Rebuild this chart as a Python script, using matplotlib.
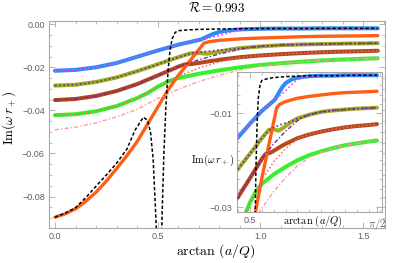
import matplotlib.pyplot as plt
from matplotlib.ticker import FixedLocator, MultipleLocator

plt.rcParams['mathtext.fontset'] = 'cm'
plt.rcParams['font.family'] = ['Liberation Sans', 'DejaVu Sans']

# --- data ---
# thick numerical curves
blue_x = [0, 0.1, 0.2, 0.3, 0.4, 0.5, 0.6, 0.66, 0.71, 0.74, 0.77, 0.80, 0.85, 0.9, 1.0, 1.1, 1.2, 1.3, 1.4, 1.5, 1.5708]
blue_y = [-0.0216, -0.0212, -0.0200, -0.0180, -0.0151, -0.0122, -0.0095, -0.0082, -0.0071, -0.0058, -0.0045,
          -0.0036, -0.0028, -0.0024, -0.0021, -0.0020, -0.0020, -0.0019, -0.0019, -0.0019, -0.0019]

orange_x = [0, 0.05, 0.1, 0.15, 0.2, 0.25, 0.3, 0.35, 0.4, 0.45, 0.5, 0.55, 0.6, 0.65, 0.7, 0.725, 0.75, 0.8,
            0.9, 1.0, 1.1, 1.2, 1.3, 1.4, 1.5, 1.5708]
orange_y = [-0.0896, -0.0880, -0.0857, -0.0822, -0.0780, -0.0728, -0.0670, -0.0610, -0.0545, -0.0465, -0.0385,
            -0.0305, -0.0238, -0.0178, -0.0118, -0.0088, -0.0081, -0.0075, -0.0068, -0.0064, -0.0061, -0.0058,
            -0.0056, -0.0055, -0.0054, -0.0053]

olive_x = [0, 0.1, 0.2, 0.3, 0.4, 0.5, 0.6, 0.66, 0.70, 0.74, 0.78, 0.85, 0.9, 1.0, 1.1, 1.2, 1.3, 1.4, 1.5, 1.5708]
olive_y = [-0.0285, -0.0281, -0.0268, -0.0247, -0.0218, -0.0186, -0.0153, -0.0135, -0.0134, -0.0137, -0.0131,
           -0.0118, -0.0111, -0.0103, -0.0097, -0.0094, -0.0092, -0.0090, -0.0089, -0.0088]

brown_x = [0, 0.1, 0.2, 0.3, 0.4, 0.5, 0.6, 0.63, 0.67, 0.7, 0.75, 0.8, 0.9, 1.0, 1.1, 1.2, 1.3, 1.4, 1.5, 1.5708]
brown_y = [-0.0352, -0.0347, -0.0333, -0.0310, -0.0278, -0.0238, -0.0197, -0.0187, -0.0184, -0.0180, -0.0172,
           -0.0165, -0.0153, -0.0145, -0.0139, -0.0134, -0.0130, -0.0127, -0.0125, -0.0123]

green_x = [0, 0.1, 0.2, 0.3, 0.4, 0.45, 0.5, 0.55, 0.6, 0.7, 0.8, 0.9, 1.0, 1.1, 1.2, 1.3, 1.4, 1.5, 1.5708]
green_y = [-0.0422, -0.0418, -0.0404, -0.0380, -0.0343, -0.0320, -0.0290, -0.0266, -0.0250, -0.0230, -0.0214,
           -0.0200, -0.0189, -0.0181, -0.0174, -0.0168, -0.0164, -0.0160, -0.0158]

# approximations (thin)
magenta_x = [0, 0.1, 0.2, 0.3, 0.4, 0.5, 0.6, 0.66, 0.71, 0.76, 0.8, 0.84, 0.89, 0.95, 1.0, 1.1, 1.2, 1.3, 1.4, 1.5, 1.5708]
magenta_y = [-0.0216, -0.0212, -0.0200, -0.0180, -0.0151, -0.0122, -0.0095, -0.0082, -0.0071, -0.0061, -0.0052,
             -0.0042, -0.0030, -0.0023, -0.0021, -0.0020, -0.0020, -0.0019, -0.0019, -0.0019, -0.0019]

violet_dot_x = [0, 0.1, 0.2, 0.3, 0.4, 0.5, 0.6, 0.66, 0.70, 0.74, 0.78, 0.85, 0.9, 1.0, 1.1, 1.2, 1.3, 1.4, 1.5, 1.5708]
violet_dot_y = [-0.0285, -0.0281, -0.0268, -0.0247, -0.0218, -0.0186, -0.0153, -0.0136, -0.0130, -0.0126, -0.0122,
                -0.0117, -0.0111, -0.0103, -0.0097, -0.0094, -0.0092, -0.0090, -0.0089, -0.0088]

violet_dd_x = [0, 0.1, 0.2, 0.3, 0.4, 0.5, 0.6, 0.63, 0.7, 0.8, 0.9, 0.95, 1.0, 1.1, 1.2, 1.3, 1.4, 1.5, 1.5708]
violet_dd_y = [-0.0352, -0.0347, -0.0333, -0.0310, -0.0278, -0.0238, -0.0197, -0.0187, -0.0165, -0.0138, -0.0116,
               -0.0108, -0.0103, -0.0097, -0.0094, -0.0092, -0.0090, -0.0089, -0.0088]

red_dot_x = [0, 0.1, 0.2, 0.3, 0.4, 0.45, 0.5, 0.6, 0.7, 0.8, 0.9, 1.0, 1.1, 1.2, 1.3, 1.4, 1.5, 1.5708]
red_dot_y = [-0.0422, -0.0418, -0.0404, -0.0380, -0.0343, -0.0320, -0.0292, -0.0242, -0.0203, -0.0175, -0.0154,
             -0.0145, -0.0139, -0.0134, -0.0130, -0.0127, -0.0125, -0.0123]

salmon_x = [0, 0.1, 0.2, 0.3, 0.4, 0.5, 0.6, 0.7, 0.8, 0.9, 1.0, 1.1, 1.2, 1.3, 1.4, 1.5, 1.5708]
salmon_y = [-0.0490, -0.0478, -0.0458, -0.0430, -0.0395, -0.0345, -0.0302, -0.0266, -0.0237, -0.0212, -0.0194,
            -0.0183, -0.0174, -0.0168, -0.0164, -0.0160, -0.0158]

black_x = [0, 0.05, 0.1, 0.15, 0.2, 0.25, 0.3, 0.35, 0.39, 0.43, 0.45, 0.465, 0.478, 0.49, 0.5, 0.508, 0.518,
           0.53, 0.54, 0.55, 0.56, 0.57, 0.585, 0.6, 0.65, 0.7, 0.8, 0.9, 1.0, 1.2, 1.4, 1.5708]
black_y = [-0.0896, -0.0877, -0.0852, -0.0805, -0.0752, -0.0700, -0.0645, -0.0580, -0.0491, -0.0432, -0.0445,
           -0.0500, -0.0630, -0.0878, -0.1100, -0.1500, -0.1000, -0.0600, -0.0380, -0.0220, -0.0120, -0.0068,
           -0.0038, -0.0030, -0.0026, -0.0024, -0.0022, -0.0021, -0.0020, -0.0020, -0.0019, -0.0019]

thick = [(blue_x, blue_y, '#2a8cf2', 2.9), (olive_x, olive_y, '#9cb022', 2.9), (brown_x, brown_y, '#b3481d', 2.9),
         (green_x, green_y, '#36f02c', 2.9), (orange_x, orange_y, '#ff5e14', 2.4)]


def draw(a):
    for x, y, c, w in thick:
        a.plot(x, y, color=c, lw=w, solid_capstyle='round', solid_joinstyle='round', zorder=2)
    a.plot(magenta_x, magenta_y, color='#ff3cff', lw=1.2, ls=(0, (1, 1.5)), zorder=3)
    a.plot(violet_dot_x, violet_dot_y, color='#7a2896', lw=1.2, ls=(0, (1, 1.5)), zorder=3)
    a.plot(violet_dd_x, violet_dd_y, color='#7a2896', lw=1.0, ls=(0, (3, 1.5, 1, 1.5)), zorder=3)
    a.plot(red_dot_x, red_dot_y, color='#ff6060', lw=1.1, ls=(0, (1, 1.5)), zorder=3)
    a.plot(salmon_x, salmon_y, color='#ff9a9a', lw=1.0, ls=(0, (3, 1.5, 1, 1.5)), zorder=3)
    a.plot(black_x, black_y, color='black', lw=1.1, ls=(0, (2.2, 1.4)), zorder=4)


def frame(a):
    for s in a.spines.values():
        s.set_color('#a8a8a8')
        s.set_linewidth(0.8)
    a.tick_params(which='both', direction='in', top=True, right=True, colors='#a8a8a8',
                  labelcolor='#606060', labelsize=6.5, pad=3)
    a.tick_params(which='major', length=4, width=0.6)
    a.tick_params(which='minor', length=2, width=0.5)


fig = plt.figure(figsize=(4.07, 2.63), dpi=100)
ax = fig.add_axes([49 / 407, 35 / 263, 336 / 407, 207 / 263])
ins = fig.add_axes([236.7 / 407, 51 / 263, 145.3 / 407, 140 / 263])

draw(ax)
frame(ax)
ax.set_xlim(-0.029, 1.606)
ax.set_ylim(-0.0946, 0.0015)
ax.xaxis.set_major_locator(FixedLocator([0, 0.5, 1.0, 1.5]))
ax.set_xticklabels(['0.0', '0.5', '1.0', '1.5'])
ax.xaxis.set_minor_locator(MultipleLocator(0.1))
yt = [-0.08, -0.06, -0.04, -0.02, 0.0]
ax.yaxis.set_major_locator(FixedLocator(yt))
ax.set_yticklabels(['\u22120.08', '\u22120.06', '\u22120.04', '\u22120.02', '0.00'])
ax.yaxis.set_minor_locator(MultipleLocator(0.005))

draw(ins)
frame(ins)
ins.set_facecolor('white')
ins.set_xlim(0.388, 1.613)
ins.set_ylim(-0.0310, -0.00121)
ins.xaxis.set_major_locator(FixedLocator([0.5, 1.5708]))
ins.set_xticklabels(['0.5', r'$\pi/2$'])
ins.get_xticklabels()[1].set_fontsize(8)
ins.xaxis.set_minor_locator(MultipleLocator(0.1))
ins.yaxis.set_major_locator(FixedLocator([-0.03, -0.01]))
ins.set_yticklabels(['\u22120.03', '\u22120.01'])
ins.yaxis.set_minor_locator(MultipleLocator(0.002))
ins.text(0.525, -0.064, r'$\arctan\,(a/Q)$', transform=ins.transAxes, ha='center', va='center', fontsize=7.5)

fig.text(217 / 407, 1 - 8 / 263, r'$\mathcal{R} = 0.993$', ha='center', va='center', fontsize=9.5)
fig.text(216 / 407, 1 - 251 / 263, r'$\arctan\,(a/Q)$', ha='center', va='center', fontsize=10)
fig.text(9 / 407, 1 - 118 / 263, r'$\mathrm{Im}(\omega\, r_+)$', ha='center', va='center', rotation=90, fontsize=9.5)
fig.text(213 / 407, 1 - 160 / 263, r'$\mathrm{Im}(\omega\, r_+)$', ha='center', va='center', fontsize=7.5)

fig.savefig('out.png', dpi=100)
